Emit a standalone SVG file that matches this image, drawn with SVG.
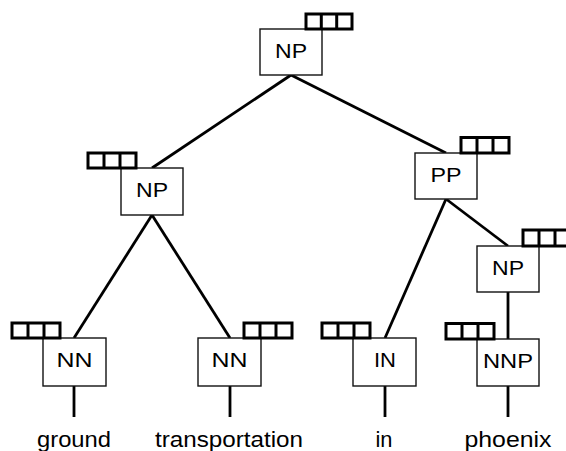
<svg xmlns="http://www.w3.org/2000/svg" width="566" height="451" viewBox="0 0 566 451">
<style>
.box{fill:#fff;stroke:#111;stroke-width:1.4}
.slot{fill:none;stroke:#000;stroke-width:3}
.edge{stroke:#000;stroke-width:2.8;fill:none}
.lbl{font-family:"Liberation Sans",Arial,sans-serif;font-size:21px;fill:#000;text-anchor:middle}
.word{font-family:"Liberation Sans",Arial,sans-serif;font-size:22px;fill:#000;text-anchor:middle}
</style>
<rect width="566" height="451" fill="#fff"/>
<g id="edges">
<line class="edge" x1="291" y1="75" x2="152" y2="168"/>
<line class="edge" x1="291" y1="75" x2="446" y2="153"/>
<line class="edge" x1="152" y1="215" x2="74" y2="338"/>
<line class="edge" x1="152" y1="215" x2="230" y2="338"/>
<line class="edge" x1="446" y1="199" x2="385" y2="338"/>
<line class="edge" x1="446" y1="199" x2="508" y2="246"/>
<line class="edge" x1="508" y1="292" x2="508" y2="339"/>
<line class="edge" x1="74" y1="386" x2="74" y2="417"/>
<line class="edge" x1="230" y1="386" x2="230" y2="417"/>
<line class="edge" x1="385" y1="386" x2="385" y2="417"/>
<line class="edge" x1="508" y1="386" x2="508" y2="417"/>
</g>
<g id="np-top">
<rect class="box" x="260" y="29" width="62" height="46"/>
<rect class="slot" x="306" y="14" width="46" height="15"/>
<line class="slot" x1="321.3" y1="14" x2="321.3" y2="29"/>
<line class="slot" x1="336.7" y1="14" x2="336.7" y2="29"/>
<text class="lbl" x="291" y="57.5" textLength="32" lengthAdjust="spacingAndGlyphs">NP</text>
</g>
<g id="np-left">
<rect class="box" x="121" y="168" width="62" height="47"/>
<rect class="slot" x="88" y="153" width="48" height="15"/>
<line class="slot" x1="104" y1="153" x2="104" y2="168"/>
<line class="slot" x1="120" y1="153" x2="120" y2="168"/>
<text class="lbl" x="152" y="196.5" textLength="32" lengthAdjust="spacingAndGlyphs">NP</text>
</g>
<g id="pp">
<rect class="box" x="415" y="153" width="62" height="46"/>
<rect class="slot" x="461" y="137.5" width="48" height="15.5"/>
<line class="slot" x1="477" y1="137.5" x2="477" y2="153"/>
<line class="slot" x1="493" y1="137.5" x2="493" y2="153"/>
<text class="lbl" x="446" y="181.5" textLength="31" lengthAdjust="spacingAndGlyphs">PP</text>
</g>
<g id="np-right">
<rect class="box" x="477" y="246" width="62" height="46"/>
<rect class="slot" x="523" y="230" width="48" height="16"/>
<line class="slot" x1="539" y1="230" x2="539" y2="246"/>
<line class="slot" x1="555" y1="230" x2="555" y2="246"/>
<text class="lbl" x="508" y="274.5" textLength="32" lengthAdjust="spacingAndGlyphs">NP</text>
</g>
<g id="nn-ground">
<rect class="box" x="43" y="338" width="63" height="48"/>
<rect class="slot" x="12" y="323" width="48" height="15"/>
<line class="slot" x1="28" y1="323" x2="28" y2="338"/>
<line class="slot" x1="44" y1="323" x2="44" y2="338"/>
<text class="lbl" x="74.5" y="366.5" textLength="36" lengthAdjust="spacingAndGlyphs">NN</text>
<text class="word" x="74" y="446.5" textLength="74" lengthAdjust="spacingAndGlyphs">ground</text>
</g>
<g id="nn-transportation">
<rect class="box" x="198" y="338" width="63" height="48"/>
<rect class="slot" x="244" y="323" width="48" height="15"/>
<line class="slot" x1="260" y1="323" x2="260" y2="338"/>
<line class="slot" x1="276" y1="323" x2="276" y2="338"/>
<text class="lbl" x="229.5" y="366.5" textLength="36" lengthAdjust="spacingAndGlyphs">NN</text>
<text class="word" x="229" y="446.5" textLength="148" lengthAdjust="spacingAndGlyphs">transportation</text>
</g>
<g id="in">
<rect class="box" x="353" y="338" width="63" height="48"/>
<rect class="slot" x="322" y="323" width="48" height="15"/>
<line class="slot" x1="338" y1="323" x2="338" y2="338"/>
<line class="slot" x1="354" y1="323" x2="354" y2="338"/>
<text class="lbl" x="385" y="366.5" textLength="22" lengthAdjust="spacingAndGlyphs">IN</text>
<text class="word" x="384" y="446.5" textLength="17" lengthAdjust="spacingAndGlyphs">in</text>
</g>
<g id="nnp">
<rect class="box" x="477" y="339" width="62" height="47"/>
<rect class="slot" x="446" y="323.5" width="48" height="15.5"/>
<line class="slot" x1="462" y1="323.5" x2="462" y2="339"/>
<line class="slot" x1="478" y1="323.5" x2="478" y2="339"/>
<text class="lbl" x="508" y="367.5" textLength="50" lengthAdjust="spacingAndGlyphs">NNP</text>
<text class="word" x="508" y="446.5" textLength="87" lengthAdjust="spacingAndGlyphs">phoenix</text>
</g>
</svg>
